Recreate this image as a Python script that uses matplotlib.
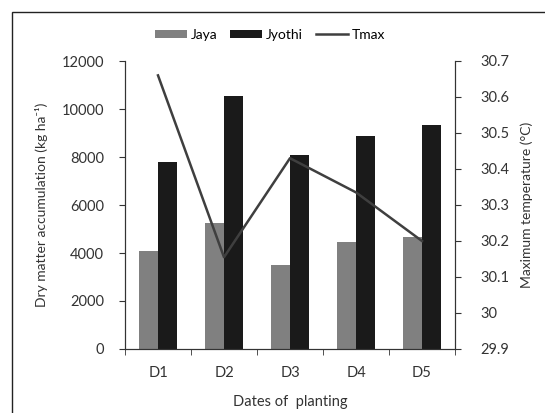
import numpy as np
import matplotlib.pyplot as plt
from matplotlib.patches import Rectangle

dates = ["D1", "D2", "D3", "D4", "D5"]
jaya = [4100, 5250, 3500, 4440, 4670]
jyothi = [7800, 10550, 8080, 8880, 9320]
tmax = [30.66, 30.155, 30.43, 30.335, 30.2]

plt.rcParams["font.family"] = ["Lato", "DejaVu Sans"]
plt.rcParams["font.size"] = 10.5
text_col = "#333333"

fig = plt.figure(figsize=(5.45, 4.13), dpi=100)
ax = fig.add_axes([125 / 545, 1 - 349 / 413, 330 / 545, 288 / 413])

# outer frame of the figure panel
fig.patches.append(Rectangle((12 / 545, -0.1), 1.2, 1 - 12 / 413 + 0.1,
                             transform=fig.transFigure, fill=False,
                             edgecolor="#222222", linewidth=1.0))

x = np.arange(len(dates))
w = 0.29
ax.bar(x - w / 2, jaya, w, color="#808080", label="Jaya")
ax.bar(x + w / 2, jyothi, w, color="#1a1a1a", label="Jyothi")
ax.set_xlim(-0.5, 4.5)
ax.set_ylim(0, 12000)
ax.set_yticks(range(0, 12001, 2000))
ax.set_xticks(x)
ax.set_xticklabels(dates)
ax.set_xticks(np.arange(-0.5, 5, 1), minor=True)
ax.tick_params(axis="x", which="major", length=0, pad=12, colors=text_col)
ax.tick_params(axis="x", which="minor", length=4, direction="out", color="#333333")
ax.tick_params(axis="y", length=4, direction="out", pad=11, colors=text_col, color="#333333")
ax.set_ylabel("Dry matter accumulation (kg ha\u207b\u00b9)", color=text_col, labelpad=10,
              fontsize=10)
ax.set_xlabel("Dates of  planting", color=text_col, labelpad=11, fontsize=10.5)
ax.spines["top"].set_visible(False)
for s in ["left", "right", "bottom"]:
    ax.spines[s].set_color("#333333")

ax2 = ax.twinx()
ax2.plot(x, tmax, color="#3f3f3f", linewidth=1.8, label="Tmax")
ax2.set_ylim(29.9, 30.7)
ax2.set_yticks([29.9, 30.0, 30.1, 30.2, 30.3, 30.4, 30.5, 30.6, 30.7])
ax2.set_yticklabels(["29.9", "30", "30.1", "30.2", "30.3", "30.4", "30.5", "30.6", "30.7"])
ax2.tick_params(axis="y", length=4, direction="out", pad=14, colors=text_col, color="#333333")
ax2.set_ylabel("Maximum temperature (\u00b0C)", color=text_col, labelpad=8, fontsize=10)
ax2.spines["top"].set_visible(False)
for s in ["left", "right", "bottom"]:
    ax2.spines[s].set_color("#333333")

h1, l1 = ax.get_legend_handles_labels()
h2, l2 = ax2.get_legend_handles_labels()
fig.legend(h1 + h2, l1 + l2, loc="center", bbox_to_anchor=(270 / 545, 1 - 35 / 413),
           ncol=3, frameon=False, handlelength=2.3, handleheight=0.55,
           columnspacing=0.9, handletextpad=0.3, fontsize=10)

fig.savefig("out.png", dpi=100)
